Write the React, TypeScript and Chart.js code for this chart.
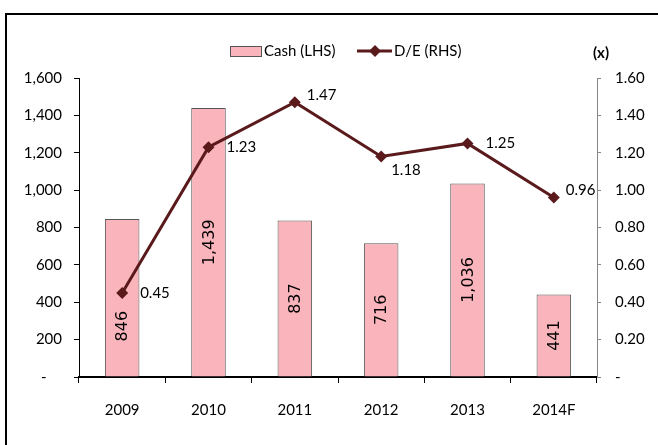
import React, { useEffect, useRef } from 'react';
import { Chart, registerables } from 'chart.js';

Chart.register(...registerables);

// ---- data ----
const years = ['2009', '2010', '2011', '2012', '2013', '2014F'];
const cash = [846, 1439, 837, 716, 1036, 441];
const debtEquity = [0.45, 1.23, 1.47, 1.18, 1.25, 0.96];
const cashLabel = 'Cash (LHS)';
const deLabel = 'D/E (RHS)';
const rightUnit = '(x)';

// label placement for D/E point labels (style, not data)
const deLabelAnchor = ['e', 'e', 'ne', 'se', 'e', 'ne'];

const FONT = 'Lato, "Open Sans", sans-serif';
const BAR_FONT = '"DejaVu Sans", sans-serif';
const BAR_FILL = '#FAB4BC';
const BAR_BORDER = '#555555';
const LINE_COLOR = '#5A1A1C';

function drawDiamond(ctx: CanvasRenderingContext2D, x: number, y: number, r: number) {
  ctx.beginPath();
  ctx.moveTo(x, y - r);
  ctx.lineTo(x + r, y);
  ctx.lineTo(x, y + r);
  ctx.lineTo(x - r, y);
  ctx.closePath();
  ctx.fill();
}

const labelsPlugin = {
  id: 'customLabels',
  afterDatasetsDraw(chart: any) {
    const ctx: CanvasRenderingContext2D = chart.ctx;
    const barMeta = chart.getDatasetMeta(0);
    const lineMeta = chart.getDatasetMeta(1);
    ctx.save();
    // bar value labels (rotated)
    ctx.font = '16px ' + BAR_FONT;
    ctx.fillStyle = '#000';
    ctx.textAlign = 'center';
    ctx.textBaseline = 'middle';
    barMeta.data.forEach((bar: any, i: number) => {
      const p = bar.getProps(['x', 'y', 'base'], true);
      const text = cash[i].toLocaleString('en-US');
      const w = ctx.measureText(text).width;
      const half = w / 2;
      let cy = (p.y + p.base) / 2;
      const pt = lineMeta.data[i];
      if (pt && Math.abs(pt.y - cy) < half + 10) {
        cy = pt.y + half + 18;
      }
      ctx.save();
      ctx.translate(p.x, cy);
      ctx.rotate(-Math.PI / 2);
      ctx.fillText(text, 0, 1);
      ctx.restore();
    });
    // line value labels
    ctx.font = '15px ' + FONT;
    ctx.textAlign = 'left';
    ctx.textBaseline = 'middle';
    lineMeta.data.forEach((pt: any, i: number) => {
      const text = debtEquity[i].toFixed(2);
      const a = deLabelAnchor[i];
      let dx = 18, dy = 0;
      if (a === 'ne') { dx = 12; dy = -7; }
      if (a === 'se') { dx = 10; dy = 14; }
      ctx.fillText(text, pt.x + dx, pt.y + dy);
    });
    ctx.restore();
  },
  afterDraw(chart: any) {
    const ctx: CanvasRenderingContext2D = chart.ctx;
    ctx.save();
    const ly = 51;
    // Cash legend
    ctx.fillStyle = BAR_FILL;
    ctx.fillRect(230, ly - 5, 32, 11);
    ctx.strokeStyle = BAR_BORDER;
    ctx.lineWidth = 1;
    ctx.strokeRect(230.5, ly - 4.5, 31, 10);
    ctx.fillStyle = '#000';
    ctx.font = '15px ' + FONT;
    ctx.textAlign = 'left';
    ctx.textBaseline = 'middle';
    ctx.fillText(cashLabel, 264, ly);
    // D/E legend
    ctx.strokeStyle = LINE_COLOR;
    ctx.lineWidth = 3;
    ctx.beginPath();
    ctx.moveTo(357, ly);
    ctx.lineTo(392, ly);
    ctx.stroke();
    ctx.fillStyle = LINE_COLOR;
    drawDiamond(ctx, 375, ly, 6);
    ctx.fillStyle = '#000';
    ctx.fillText(deLabel, 394, ly);
    // (x)
    ctx.font = 'bold 15px ' + FONT;
    ctx.fillText(rightUnit, 593, 53);
    ctx.restore();
  },
};

export default function App() {
  const ref = useRef<HTMLCanvasElement>(null);
  useEffect(() => {
    if (!ref.current) return;
    const chart = new Chart(ref.current, {
      type: 'bar',
      data: {
        labels: years,
        datasets: [
          {
            type: 'bar',
            label: cashLabel,
            data: cash,
            yAxisID: 'y',
            backgroundColor: BAR_FILL,
            borderColor: BAR_BORDER,
            borderWidth: 1,
            barPercentage: 0.4,
            categoryPercentage: 1,
            order: 2,
          },
          {
            type: 'line',
            label: deLabel,
            data: debtEquity,
            yAxisID: 'y1',
            borderColor: LINE_COLOR,
            backgroundColor: LINE_COLOR,
            borderWidth: 3,
            pointStyle: 'rectRot',
            pointRadius: 6,
            pointBorderWidth: 0,
            pointBackgroundColor: LINE_COLOR,
            tension: 0,
            order: 1,
          } as any,
        ],
      },
      options: {
        responsive: false,
        animation: false,
        devicePixelRatio: 1,
        layout: { padding: { top: 78, left: 0, right: 0, bottom: 0 } },
        plugins: {
          legend: { display: false },
          tooltip: { enabled: false },
          title: { display: false },
        },
        scales: {
          x: {
            offset: true,
            grid: {
              offset: true,
              drawOnChartArea: false,
              drawTicks: true,
              tickLength: 6,
              color: '#000',
              lineWidth: 1,
            },
            border: { display: true, color: '#000', width: 2 },
            ticks: { color: '#000', font: { family: FONT, size: 15 }, padding: 18, maxRotation: 0 },
            afterFit: (s: any) => { s.height = 68; },
          },
          y: {
            position: 'left',
            min: 0,
            max: 1600,
            ticks: {
              stepSize: 200,
              color: '#000',
              font: { family: FONT, size: 15 },
              padding: 12,
              callback: (v: any) => (Number(v) === 0 ? '-    ' : Number(v).toLocaleString('en-US')),
            },
            grid: { drawOnChartArea: false, drawTicks: true, tickLength: 5, color: '#000' },
            border: { display: true, color: '#000', width: 1 },
            afterFit: (s: any) => { s.width = 79; },
          },
          y1: {
            position: 'right',
            min: 0,
            max: 1.6,
            ticks: {
              stepSize: 0.2,
              color: '#000',
              font: { family: FONT, size: 15 },
              padding: 14,
              callback: (v: any) => (Number(v) === 0 ? '-' : Number(v).toFixed(2)),
            },
            grid: { drawOnChartArea: false, drawTicks: true, tickLength: 4, color: '#888' },
            border: { display: true, color: '#888', width: 1 },
            afterFit: (s: any) => { s.width = 61; },
          },
        },
      },
      plugins: [labelsPlugin],
    });
    return () => chart.destroy();
  }, []);

  return (
    <div
      style={{
        position: 'fixed',
        left: 0,
        top: 0,
        width: 658,
        height: 445,
        overflow: 'hidden',
        background: '#fff',
      }}
    >
      <div
        style={{
          position: 'absolute',
          left: 5,
          top: 13,
          width: 700,
          height: 500,
          border: '2px solid #000',
          boxSizing: 'border-box',
        }}
      />
      <canvas ref={ref} width={658} height={445} style={{ position: 'absolute', left: 0, top: 0, width: 658, height: 445 }} />
    </div>
  );
}
